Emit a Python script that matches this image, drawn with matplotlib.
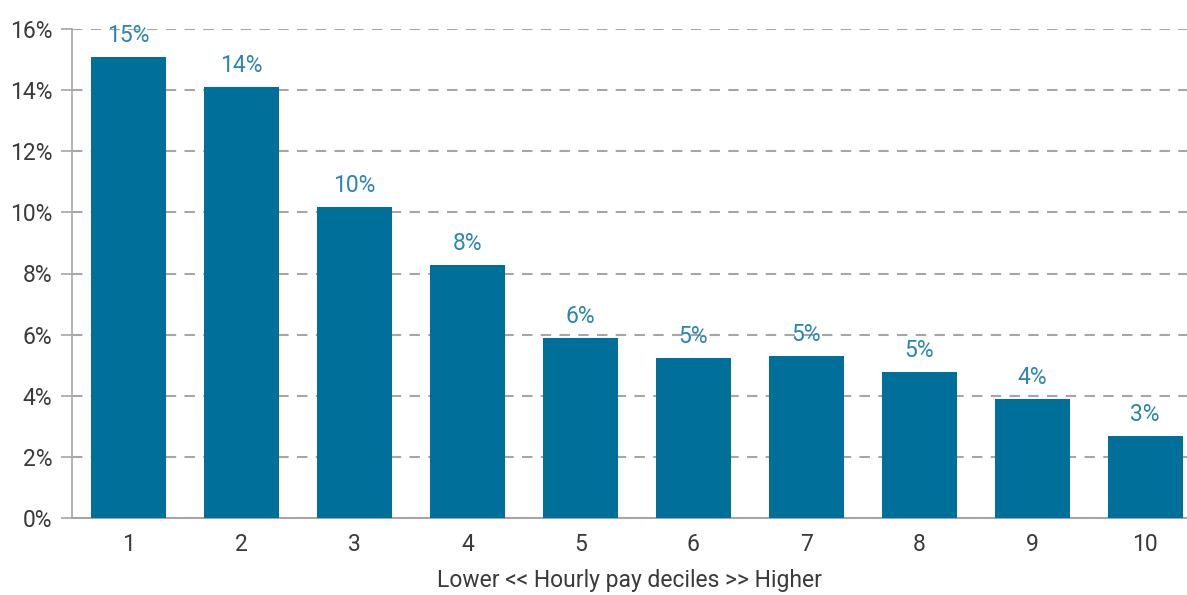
import matplotlib.pyplot as plt
from matplotlib.ticker import FuncFormatter

deciles = [1, 2, 3, 4, 5, 6, 7, 8, 9, 10]
shares = [15.08, 14.1, 10.18, 8.28, 5.89, 5.24, 5.3, 4.78, 3.89, 2.68]
bar_labels = ["15%", "14%", "10%", "8%", "6%", "5%", "5%", "5%", "4%", "3%"]

plt.rcParams['font.family'] = ['Roboto', 'DejaVu Sans']

fig = plt.figure(figsize=(11.87, 5.95), dpi=100)
ax = fig.add_axes([72/1187, 77/595, 1 - 72/1187, 489/595])

bars = ax.bar(deciles, shares, width=0.664, color='#00709b', zorder=3)
for b, lab in zip(bars, bar_labels):
    ax.text(b.get_x() + b.get_width()/2, b.get_height() + 0.33, lab,
            ha='center', va='bottom', fontsize=16.5, color='#2a86b0')

ax.set_xlim(0.5, 10.37)
ax.set_ylim(0, 16)
ax.set_yticks(range(0, 17, 2))
ax.yaxis.set_major_formatter(FuncFormatter(lambda v, p: f"{int(v)}%"))
ax.set_xticks(deciles)
ax.grid(axis='y', color='#a6a6a6', linestyle=(0, (5, 4)), linewidth=1.5, zorder=0)

for s in ['top', 'right']:
    ax.spines[s].set_visible(False)
ax.spines['left'].set_color('#a6a6a6')
ax.spines['bottom'].set_color('#a6a6a6')
ax.spines['left'].set_linewidth(1.2)
ax.spines['bottom'].set_linewidth(1.5)

ax.tick_params(axis='y', length=8, width=1.2, color='#a6a6a6', labelsize=16.5, labelcolor='#3a3a3a', pad=6)
ax.tick_params(axis='x', length=0, labelsize=16.5, labelcolor='#3a3a3a', pad=11)

ax.set_xlabel("Lower << Hourly pay deciles >> Higher", fontsize=16.5, color='#3a3a3a', labelpad=9)

fig.savefig("out.png", dpi=100)
